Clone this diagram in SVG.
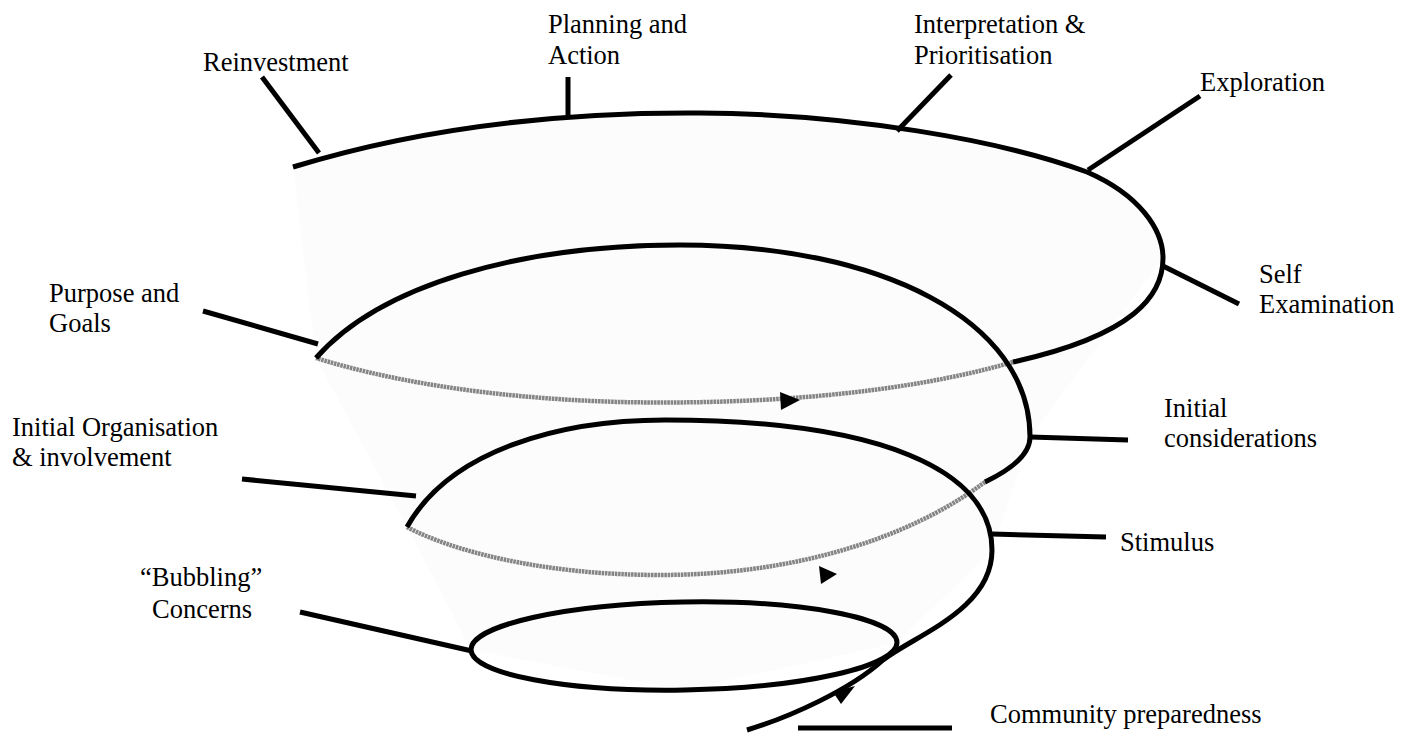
<svg xmlns="http://www.w3.org/2000/svg" width="1411" height="733" viewBox="0 0 1411 733">
<style>
.lbl{font-family:'Liberation Serif','Times New Roman',Times,'DejaVu Serif',serif;font-size:26.5px;fill:#000}
.tick{stroke:#000;stroke-width:5;fill:none}
.front{stroke:#000;stroke-width:5;fill:none}
.back{stroke:#858585;stroke-width:4.5;fill:none;stroke-dasharray:2.6 0.7}
.head{fill:#000}
</style>
<rect width="1411" height="733" fill="#fff"/>
<path d="M293,167 C420,128 560,112 700,113 C850,114 1000,140 1087,172 C1140,195 1163,230 1163,258 L1030,437 L992,550 L897,643 L684,690 L471,650 L407,527 L316,358 Z" fill="#fcfcfc"/>
<g id="connectors">
<path class="back" d="M1013,362 C900,395 750,405 620,402 C480,398 380,378 316,358"/>
<path class="back" d="M985,482 C900,545 780,575 660,575 C540,575 450,550 407,527"/>
<path class="front" d="M293,167 C420,128 560,112 700,113 C850,114 1000,140 1087,172 C1140,195 1163,230 1163,258 C1163,295 1135,335 1013,362"/>
<path class="front" d="M316,358 C380,285 520,245 680,245 C880,245 1030,320 1030,437 C1030,455 1010,470 985,482"/>
<path class="front" d="M407,527 C450,450 560,420 665,420 C880,420 992,470 992,550"/>
<path class="front" d="M747,730 C790,717 850,690 883,660 C915,635 992,610 992,550"/>
<ellipse class="front" cx="684" cy="646" rx="213" ry="44" transform="rotate(-1 684 646)"/>
<polygon class="head" points="800,400 780,392 781,410"/>
<polygon class="head" points="837,574 819,566 821,584"/>
<polygon class="head" points="855,686 833,692 841,704"/>
</g>
<g id="reinvestment"><line class="tick" x1="262" y1="77" x2="319" y2="153"/><text class="lbl" x="203" y="71">Reinvestment</text></g>
<g id="planning"><line class="tick" x1="568" y1="77" x2="568" y2="115"/><text class="lbl" x="548" y="33">Planning and</text><text class="lbl" x="548" y="64">Action</text></g>
<g id="interpretation"><line class="tick" x1="951" y1="75" x2="897" y2="131"/><text class="lbl" x="914" y="33">Interpretation &amp;</text><text class="lbl" x="914" y="64">Prioritisation</text></g>
<g id="exploration"><line class="tick" x1="1200" y1="96" x2="1088" y2="170"/><text class="lbl" x="1200" y="91">Exploration</text></g>
<g id="self-examination"><line class="tick" x1="1163" y1="266" x2="1239" y2="304"/><text class="lbl" x="1259" y="283">Self</text><text class="lbl" x="1259" y="313">Examination</text></g>
<g id="purpose"><line class="tick" x1="203" y1="311" x2="318" y2="344"/><text class="lbl" x="49" y="302">Purpose and</text><text class="lbl" x="49" y="332">Goals</text></g>
<g id="initial-considerations"><line class="tick" x1="1030" y1="437" x2="1128" y2="440"/><text class="lbl" x="1164" y="417">Initial</text><text class="lbl" x="1164" y="447">considerations</text></g>
<g id="initial-organisation"><line class="tick" x1="242" y1="479" x2="416" y2="496"/><text class="lbl" x="12" y="436">Initial Organisation</text><text class="lbl" x="12" y="466">&amp; involvement</text></g>
<g id="stimulus"><line class="tick" x1="992" y1="534" x2="1106" y2="537"/><text class="lbl" x="1120" y="551">Stimulus</text></g>
<g id="bubbling"><line class="tick" x1="300" y1="612" x2="472" y2="651"/><text class="lbl" x="140" y="586">“Bubbling”</text><text class="lbl" x="152" y="618">Concerns</text></g>
<g id="community"><line class="tick" x1="798" y1="728" x2="952" y2="728"/><text class="lbl" x="990" y="723">Community preparedness</text></g>
</svg>
